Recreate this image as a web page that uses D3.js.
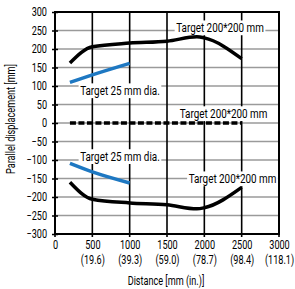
<!DOCTYPE html>
<html>
<head>
<meta charset="utf-8">
<script src="https://cdn.jsdelivr.net/npm/d3@7"></script>
<style>
  body { margin: 0; background: #fff; }
  svg text { font-family: Roboto, "Liberation Sans", sans-serif; }
</style>
</head>
<body>
<svg width="295" height="289"></svg>
<script>
// values
var distance = [200, 500, 1000, 1500, 1900, 2000, 2500];
var upper200 = [162, 206, 216, 221, 233, 230, 174];
var lower200 = [-160, -206, -216, -221, -232, -229, -174];
var dist25 = [200, 500, 1000];
var upper25 = [110, 130, 161];
var lower25 = [-109, -132, -162];
var centreDist = [200, 2500];
var centre = [0, 0];

var xTicks = [0, 500, 1000, 1500, 2000, 2500, 3000];
var xInches = ["", "(19.6)", "(39.3)", "(59.0)", "(78.7)", "(98.4)", "(118.1)"];
var yTicks = [300, 250, 200, 150, 100, 50, 0, -50, -100, -150, -200, -250, -300];

var labels = [
  { text: "Target 200*200 mm", x: 2210, y: 259 },
  { text: "Target 25 mm dia.", x: 870, y: 89 },
  { text: "Target 200*200 mm", x: 2257, y: 27 },
  { text: "Target 25 mm dia.", x: 870, y: -89 },
  { text: "Target 200*200 mm", x: 2377, y: -149 }
];

var squeezeX = 0.76;

drawChart();

// narrow the font: move x/y into a transform and scale horizontally
function squeeze(sel){
  sel.each(function(){
    var t = d3.select(this);
    var tx = +t.attr("x") || 0, ty = +t.attr("y") || 0;
    t.attr("x", null).attr("y", null)
      .attr("transform", "translate(" + tx + "," + ty + ") scale(" + squeezeX + ",1)");
  });
}

function drawChart(){
  var svg = d3.select("svg");
  var pl = 55, pr = 279, pt = 12, pb = 234;

  var x = d3.scaleLinear().domain([0, 3000]).range([pl, pr]);
  var y = d3.scaleLinear().domain([-300, 300]).range([pb, pt]);

  // horizontal grid
  svg.append("g")
    .selectAll("line")
    .data(yTicks)
    .enter()
    .append("line")
      .attr("x1", pl).attr("x2", pr)
      .attr("y1", function(d){ return y(d); })
      .attr("y2", function(d){ return y(d); })
      .attr("stroke", "#9a9a9a")
      .attr("stroke-width", 1.5);

  // vertical grid
  svg.append("g")
    .selectAll("line")
    .data(xTicks)
    .enter()
    .append("line")
      .attr("x1", function(d){ return x(d); })
      .attr("x2", function(d){ return x(d); })
      .attr("y1", pt).attr("y2", pb + 3)
      .attr("stroke", "#000")
      .attr("stroke-width", 1.6);

  // axes
  var yAxis = d3.axisLeft(y).tickValues(yTicks).tickFormat(d3.format("d"))
    .tickSizeInner(3).tickSizeOuter(0).tickPadding(5);
  var gy = svg.append("g")
    .attr("transform", "translate(" + pl + ",0)")
    .call(yAxis);
  gy.select(".domain").remove();
  gy.selectAll("line").attr("stroke-width", 1.5).attr("x2", 3).attr("x1", -3);
  gy.selectAll("text").style("font-size", "12px").attr("fill", "#000");
  squeeze(gy.selectAll("text"));

  var xAxis = d3.axisBottom(x).tickValues(xTicks).tickFormat(d3.format("d"))
    .tickSize(0).tickPadding(6);
  var gx = svg.append("g")
    .attr("transform", "translate(0," + pb + ")")
    .call(xAxis);
  gx.select(".domain").remove();
  gx.selectAll("text").style("font-size", "12px").attr("fill", "#000");
  gx.selectAll(".tick")
    .append("text")
      .attr("y", 21)
      .attr("dy", "0.71em")
      .attr("fill", "#000")
      .style("font-size", "12px")
      .text(function(d, i){ return xInches[i]; });
  squeeze(gx.selectAll("text"));

  // frame
  svg.append("rect")
    .attr("x", pl).attr("y", pt)
    .attr("width", pr - pl).attr("height", pb - pt)
    .attr("fill", "none")
    .attr("stroke", "#000")
    .attr("stroke-width", 2);

  svg.append("text")
    .attr("x", 166).attr("y", 285)
    .attr("text-anchor", "middle")
    .style("font-size", "12px")
    .text("Distance [mm (in.)]")
    .call(squeeze);

  svg.append("g")
    .attr("transform", "translate(15,119) rotate(-90)")
    .append("text")
      .attr("text-anchor", "middle")
      .style("font-size", "12px")
      .text("Parallel displacement [mm]")
      .call(squeeze);

  // labels with white boxes
  labels.forEach(function(l){
    var g = svg.append("g")
      .attr("transform", "translate(" + x(l.x) + "," + y(l.y) + ") scale(" + squeezeX + ",1)");
    var t = g.append("text")
      .attr("dy", "0.36em")
      .attr("text-anchor", "middle")
      .style("font-size", "13px")
      .text(l.text);
    var b = t.node().getBBox();
    g.insert("rect", "text")
      .attr("x", b.x - 2).attr("y", b.y + 1)
      .attr("width", b.width + 4).attr("height", b.height - 1)
      .attr("fill", "#fff");
  });

  function drawSeries(xs, ys, color, dash, curve){
    var line = d3.line()
      .x(function(d){ return x(d[0]); })
      .y(function(d){ return y(d[1]); })
      .curve(curve);
    svg.append("path")
      .datum(d3.zip(xs, ys))
      .attr("fill", "none")
      .attr("stroke", color)
      .attr("stroke-width", 3.5)
      .attr("stroke-dasharray", dash)
      .attr("d", line);
  }

  drawSeries(distance, upper200, "#000", null, d3.curveMonotoneX);
  drawSeries(distance, lower200, "#000", null, d3.curveMonotoneX);
  drawSeries(dist25, upper25, "#1e78c2", null, d3.curveMonotoneX);
  drawSeries(dist25, lower25, "#1e78c2", null, d3.curveMonotoneX);
  drawSeries(centreDist, centre, "#000", "6,2.5", d3.curveLinear);
}
</script>
</body>
</html>
